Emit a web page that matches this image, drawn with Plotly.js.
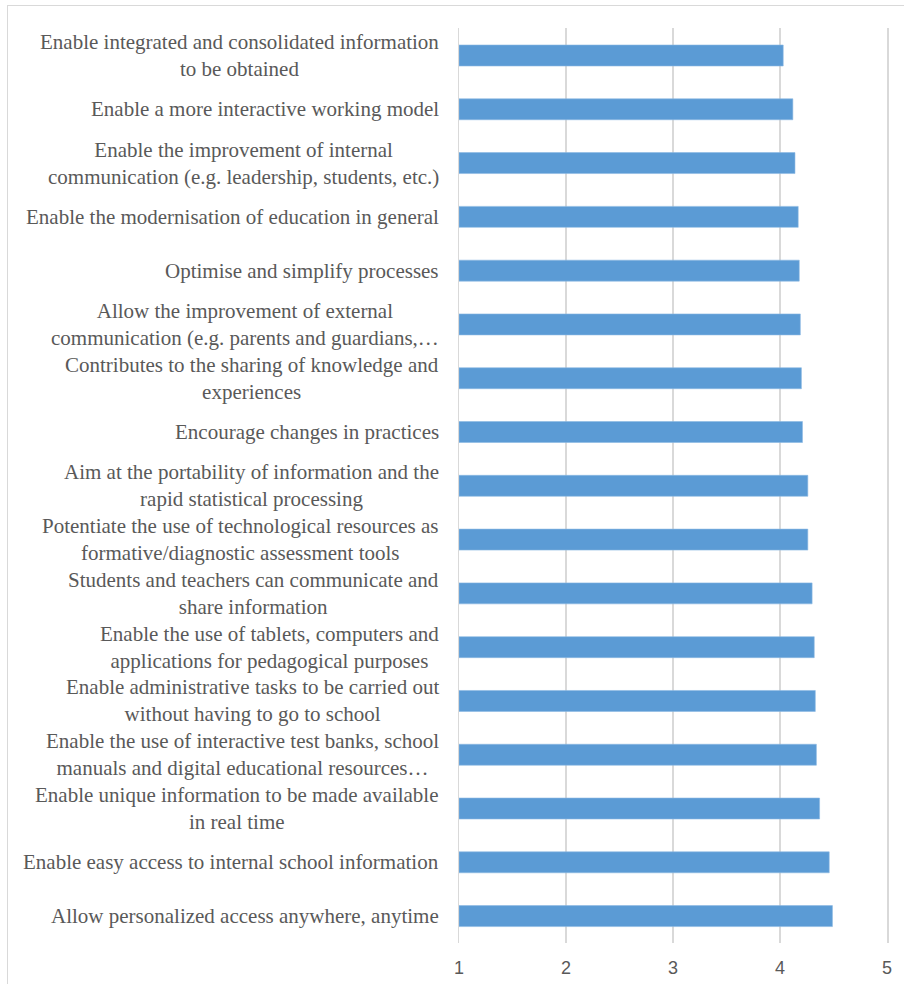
<!DOCTYPE html>
<html>
<head>
<meta charset="utf-8">
<script src="https://cdn.plot.ly/plotly-3.0.1.min.js"></script>
<style>
  html, body { margin: 0; padding: 0; background: #ffffff; }
  #wrap { position: relative; width: 904px; height: 984px; }
  #chart { width: 904px; height: 984px; }
  #frame { position: absolute; left: 7px; top: 5px; width: 1000px; height: 1000px;
           border-left: 1px solid #d9d9d9; border-top: 1px solid #d9d9d9; pointer-events: none; }
</style>
</head>
<body>
<div id="wrap">
  <div id="chart"></div>
  <div id="frame"></div>
</div>
<script>
// Categories, top to bottom as displayed
const categories = [
  "Enable integrated and consolidated information<br>to be obtained",
  "Enable a more interactive working model",
  "Enable the improvement of internal<br>communication (e.g. leadership, students, etc.)",
  "Enable the modernisation of education in general",
  "Optimise and simplify processes",
  "Allow the improvement of external<br>communication (e.g. parents and guardians,…",
  "Contributes to the sharing of knowledge and<br>experiences",
  "Encourage changes in practices",
  "Aim at the portability of information and the<br>rapid statistical processing",
  "Potentiate the use of technological resources as<br>formative/diagnostic assessment tools",
  "Students and teachers can communicate and<br>share information",
  "Enable the use of tablets, computers and<br>applications for pedagogical purposes",
  "Enable administrative tasks to be carried out<br>without having to go to school",
  "Enable the use of interactive test banks, school<br>manuals and digital educational resources…",
  "Enable unique information to be made available<br>in real time",
  "Enable easy access to internal school information",
  "Allow personalized access anywhere, anytime"
];
const meanScores = [4.03, 4.12, 4.14, 4.17, 4.18, 4.19, 4.20, 4.21, 4.26, 4.26, 4.30, 4.32, 4.33, 4.34, 4.37, 4.46, 4.49];
const xTickValues = [1, 2, 3, 4, 5];
const xTickLabels = ["1", "2", "3", "4", "5"];

const ids = categories.map((c, i) => "c" + i);

const trace = {
  type: "bar",
  orientation: "h",
  x: meanScores.map(v => v - 1),
  base: 1,
  y: ids,
  marker: { color: "#5b9bd5", line: { color: "#8cb8e2", width: 0.6 } },
  hoverinfo: "skip"
};

const annotations = categories.map((c, i) => ({
  xref: "paper", yref: "y",
  x: 0, xshift: -18, y: ids[i],
  xanchor: "right", yanchor: "middle", align: "center",
  text: c, showarrow: false,
  font: { family: "Liberation Serif", size: 21, color: "#595959" }
}));

const layout = {
  width: 904, height: 984,
  margin: { l: 459, r: 17, t: 28, b: 41 },
  paper_bgcolor: "#ffffff", plot_bgcolor: "#ffffff",
  showlegend: false,
  bargap: 0.61,
  xaxis: {
    range: [1, 5], tickvals: xTickValues, ticktext: xTickLabels,
    showgrid: true, gridcolor: "#d9d9d9", gridwidth: 1.5,
    zeroline: false, showline: false, ticks: "",
    ticklabelstandoff: 12,
    tickfont: { family: "Liberation Sans", size: 18, color: "#595959" }
  },
  yaxis: {
    type: "category", autorange: "reversed",
    showticklabels: false, showgrid: false, zeroline: false,
    showline: true, mirror: true, linecolor: "#d9d9d9", linewidth: 1.5, ticks: ""
  },
  annotations: annotations
};

Plotly.newPlot("chart", [trace], layout, { displayModeBar: false, staticPlot: true });
</script>
</body>
</html>
